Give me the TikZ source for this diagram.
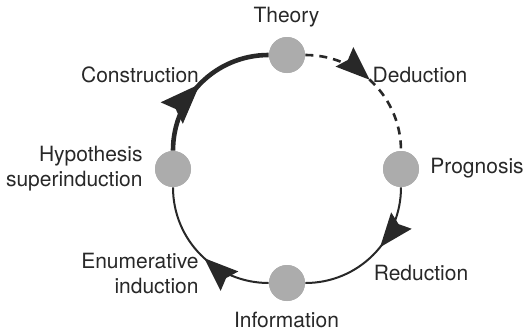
\documentclass[tikz,border=0pt]{standalone}
\usepackage{fontspec}
\setmainfont{TeX Gyre Heros}
\usetikzlibrary{arrows.meta,decorations.markings}
\definecolor{dotgray}{RGB}{172,172,172}
\definecolor{ink}{RGB}{40,40,40}
\tikzset{
  dot/.style={circle,fill=dotgray,draw=none,minimum size=18pt,inner sep=0pt},
  lbl/.style={inner sep=0pt,text=ink,font=\fontsize{10.5pt}{12.5pt}\selectfont},
  tipA/.tip={Stealth[length=17pt,width=13pt,inset=2.2pt]},
  tipB/.tip={Stealth[length=20pt,width=15pt,inset=2.6pt]},
  midarrow/.style={postaction={decorate},decoration={markings,
     mark=at position #1 with {\arrow{tipA}}}},
  bigmidarrow/.style={postaction={decorate},decoration={markings,
     mark=at position #1 with {\arrow{tipB}}}},
  conn/.style={draw=ink,line width=1pt},
  thickconn/.style={draw=ink,line width=2.3pt},
  dashconn/.style={draw=ink,line width=1.3pt,dash pattern=on 4pt off 3pt},
}
\begin{document}
\begin{tikzpicture}[x=0.5pt,y=0.5pt]
\useasboundingbox (0,0) rectangle (526,334);
\coordinate (cT) at (287,279);
\coordinate (cP) at (401,165);
\coordinate (cI) at (287,51);
\coordinate (cH) at (173,165);
\node[dot] (T) at (cT) {};
\node[dot] (P) at (cP) {};
\node[dot] (I) at (cI) {};
\node[dot] (H) at (cH) {};
\draw[dashconn,midarrow=0.47] (T) to[bend left=45] (P);
\draw[conn,midarrow=0.43] (P) to[bend left=45] (I);
\draw[conn,midarrow=0.47] (I) to[bend left=45] (H);
\draw[thickconn,bigmidarrow=0.49] (H) to[bend left=45] (T);
\node[dot] at (cT) {};
\node[dot] at (cP) {};
\node[dot] at (cI) {};
\node[dot] at (cH) {};
% labels
\node[lbl] (lT) at (286.5,317) {Theory};
\node[lbl] (lC) at (140,259) {Construction};
\node[lbl] (lD) at (420,259) {Deduction};
\node[lbl,anchor=east,align=right] (lH) at (143,165) {Hypothesis\\superinduction};
\node[lbl,anchor=west] (lP) at (430,166) {Prognosis};
\node[lbl,anchor=east,align=right] (lE) at (199,61) {Enumerative\\induction};
\node[lbl] (lR) at (421,61) {Reduction};
\node[lbl] (lI) at (286.5,14) {Information};
\end{tikzpicture}
\end{document}
